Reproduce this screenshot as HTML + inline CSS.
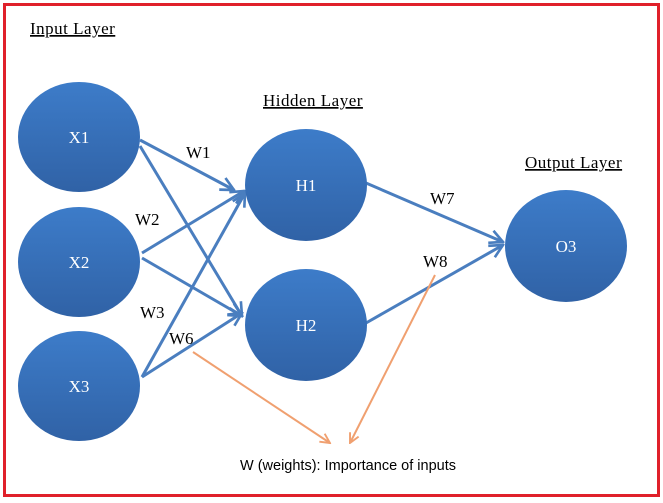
<!DOCTYPE html>
<html><head><meta charset="utf-8"><style>
html,body{margin:0;padding:0;background:#fff;width:663px;height:503px;overflow:hidden}
svg{display:block}
</style></head><body>
<svg width="663" height="503" viewBox="0 0 663 503" xmlns="http://www.w3.org/2000/svg">
<defs>
<linearGradient id="g" x1="0" y1="0" x2="0" y2="1">
<stop offset="0" stop-color="#3d7cc9"/><stop offset="1" stop-color="#3062a6"/>
</linearGradient>
<marker id="ab" viewBox="0 0 10 10" refX="9" refY="5" markerWidth="5.5" markerHeight="5.5" orient="auto" markerUnits="strokeWidth">
<path d="M1,1 L9,5 L1,9" fill="none" stroke="#4a7ebf" stroke-width="1.6"/>
</marker>
<marker id="ao" viewBox="0 0 10 10" refX="9" refY="5" markerWidth="6" markerHeight="6" orient="auto" markerUnits="strokeWidth">
<path d="M1,1 L9,5 L1,9" fill="none" stroke="#f0a070" stroke-width="1.6"/>
</marker>
</defs>
<rect x="4.5" y="4.5" width="654" height="491" fill="#fff" stroke="#e0202a" stroke-width="3"/>
<g font-family="Liberation Serif, serif" font-size="17" letter-spacing="0.5" fill="#000" text-decoration="underline">
<text x="30" y="34">Input Layer</text>
<text x="263" y="106">Hidden Layer</text>
<text x="525" y="168">Output Layer</text>
</g>
<g stroke="#4a7ebf" stroke-width="3" fill="none" marker-end="url(#ab)">
<line x1="140" y1="140" x2="234" y2="190"/>
<line x1="140" y1="146" x2="242" y2="316"/>
<line x1="142" y1="253" x2="244" y2="191"/>
<line x1="142" y1="258" x2="242" y2="316"/>
<line x1="142" y1="377" x2="245" y2="193"/>
<line x1="142" y1="377" x2="242" y2="313"/>
<line x1="366" y1="183" x2="503" y2="242"/>
<line x1="366" y1="323" x2="503" y2="245"/>
</g>
<g stroke="#f0a070" stroke-width="2" fill="none" marker-end="url(#ao)">
<line x1="193" y1="352" x2="330" y2="443"/>
<line x1="435" y1="275" x2="350" y2="443"/>
</g>
<g fill="url(#g)">
<ellipse cx="79" cy="137" rx="61" ry="55"/>
<ellipse cx="79" cy="262" rx="61" ry="55"/>
<ellipse cx="79" cy="386" rx="61" ry="55"/>
<ellipse cx="306" cy="185" rx="61" ry="56"/>
<ellipse cx="306" cy="325" rx="61" ry="56"/>
<ellipse cx="566" cy="246" rx="61" ry="56"/>
</g>
<g font-family="Liberation Serif, serif" font-size="17" fill="#fff" text-anchor="middle">
<text x="79" y="143">X1</text>
<text x="79" y="268">X2</text>
<text x="79" y="392">X3</text>
<text x="306" y="191">H1</text>
<text x="306" y="331">H2</text>
<text x="566" y="252">O3</text>
</g>
<g font-family="Liberation Serif, serif" font-size="17" fill="#000">
<text x="186" y="158">W1</text>
<text x="135" y="225">W2</text>
<text x="140" y="318">W3</text>
<text x="169" y="344">W6</text>
<text x="430" y="204">W7</text>
<text x="423" y="267">W8</text>
</g>
<text x="240" y="470" font-family="Liberation Sans, sans-serif" font-size="14.5" fill="#000">W (weights): Importance of inputs</text>
</svg>
</body></html>
